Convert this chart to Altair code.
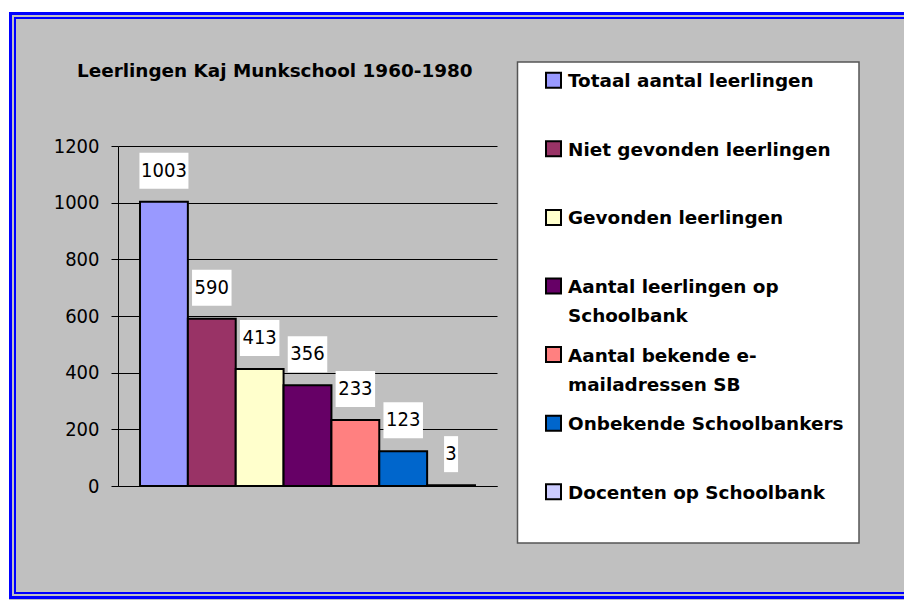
import altair as alt
import pandas as pd

# ---------------- data ----------------
series = [
    "Totaal aantal leerlingen",
    "Niet gevonden leerlingen",
    "Gevonden leerlingen",
    "Aantal leerlingen op Schoolbank",
    "Aantal bekende e-mailadressen SB",
    "Onbekende Schoolbankers",
    "Docenten op Schoolbank",
]
legend_labels = [
    "Totaal aantal leerlingen",
    "Niet gevonden leerlingen",
    "Gevonden leerlingen",
    "Aantal leerlingen op\nSchoolbank",
    "Aantal bekende e-\nmailadressen SB",
    "Onbekende Schoolbankers",
    "Docenten op Schoolbank",
]
values = [1003, 590, 413, 356, 233, 123, 3]
colors = ["#9999FF", "#993366", "#FFFFCC", "#660066", "#FF8080", "#0066CC", "#CCCCFF"]
y_ticks = [0, 200, 400, 600, 800, 1000, 1200]
title_text = "Leerlingen Kaj Munkschool 1960-1980"

df = pd.DataFrame({"serie": series, "legend": legend_labels, "waarde": values})
one = alt.Data(values=[{"k": 1}])

NUM_FONT = "DejaVu Sans Condensed, DejaVu Sans"
TXT_FONT = "DejaVu Sans"

W, H = 379, 340

color_enc = alt.Color("serie:N", scale=alt.Scale(domain=series, range=colors), legend=None)
x_enc = alt.X(
    "serie:N", sort=series,
    scale=alt.Scale(paddingInner=0, paddingOuter=0.46),
    axis=alt.Axis(title=None, labels=False, ticks=False, grid=False,
                  domainColor="black", domainWidth=1),
)
y_enc = alt.Y(
    "waarde:Q", scale=alt.Scale(domain=[0, 1200], nice=False),
    axis=alt.Axis(values=y_ticks, format="d", title=None, grid=True, gridColor="black",
                  gridWidth=1, gridOpacity=1, tickSize=7, tickColor="black",
                  tickWidth=1, domainColor="black", domainWidth=1,
                  labelFont=NUM_FONT, labelFontSize=20, labelColor="black",
                  labelPadding=12),
)

base = alt.Chart(df)

bars = base.mark_bar(stroke="black", strokeWidth=2).encode(
    x=x_enc, y=y_enc, color=color_enc,
)

box_paths = {
    "1": "M-0.28,-1.96L0.28,-1.96L0.28,-0.52L-0.28,-0.52Z",
    "3": "M-0.79,-1.96L0.79,-1.96L0.79,-0.52L-0.79,-0.52Z",
    "4": "M-0.98,-1.96L0.98,-1.96L0.98,-0.52L-0.98,-0.52Z",
}
boxes = base.transform_calculate(
    nd="toString(length(toString(datum.waarde)))"
).mark_point(filled=True, fill="white", size=2500, opacity=1, strokeWidth=0).encode(
    x=x_enc, y=y_enc,
    shape=alt.Shape("nd:N", scale=alt.Scale(domain=list(box_paths.keys()),
                                            range=list(box_paths.values())), legend=None),
)

labels = base.mark_text(dy=-31, baseline="middle", font=NUM_FONT, fontSize=20,
                        color="black").encode(
    x=x_enc, y=y_enc, text=alt.Text("waarde:Q", format="d"),
)

bar_group = alt.layer(bars, boxes, labels)

# ---------------- legend (drawn from the series data) ----------------
leg_y = alt.Y("serie:N", sort=series,
              scale=alt.Scale(type="point", padding=0, range=[-65.7, 345.7]),
              axis=None)
leg_box = alt.Chart(one).mark_rect(fill="white", stroke="#555555", strokeWidth=1.5).encode(
    x=alt.value(399.5), x2=alt.value(741), y=alt.value(-84), y2=alt.value(397))
leg_sw = base.mark_square(size=225, filled=True, stroke="black", strokeWidth=2,
                          opacity=1).encode(x=alt.value(435.5), y=leg_y, color=color_enc)
leg_tx = base.mark_text(align="left", baseline="alphabetic", dy=7, lineBreak="\n",
                        lineHeight=29, font=TXT_FONT, fontWeight="bold", fontSize=18.4,
                        color="black").encode(x=alt.value(450), y=leg_y, text="legend:N")
legend_group = alt.layer(leg_sw, leg_tx)

# ---------------- frame & title ----------------
white_top = alt.Chart(one).mark_rect(fill="white").encode(
    x=alt.value(-110), x2=alt.value(786), y=alt.value(-138), y2=alt.value(-134))
white_left = alt.Chart(one).mark_rect(fill="white").encode(
    x=alt.value(-110), x2=alt.value(-109), y=alt.value(-138), y2=alt.value(454))
outer = alt.Chart(one).mark_rect(fill="white", fillOpacity=0, stroke="#0000FF",
                                 strokeWidth=3).encode(
    x=alt.value(-107.5), x2=alt.value(800), y=alt.value(-132.5), y2=alt.value(451.5))
inner = alt.Chart(one).mark_rect(fill="white", fillOpacity=0, stroke="#0000FF",
                                 strokeWidth=2).encode(
    x=alt.value(-103), x2=alt.value(800), y=alt.value(-128), y2=alt.value(447))
title = alt.Chart(one).mark_text(text=title_text, align="left", baseline="alphabetic",
                                 font=TXT_FONT, fontWeight="bold", fontSize=18.4,
                                 color="black").encode(x=alt.value(-41), y=alt.value(-69))

chart = alt.layer(
    white_top, white_left, outer, inner, title, leg_box, bar_group, legend_group
).resolve_scale(y="independent").properties(
    width=W, height=H,
    padding={"left": 110, "top": 138, "right": 407, "bottom": 114},
    autosize=alt.AutoSizeParams(type="none"),
    background="#C0C0C0",
).configure_view(strokeWidth=0)

chart.save("out.html", embed_options={"renderer": "svg", "actions": False})
